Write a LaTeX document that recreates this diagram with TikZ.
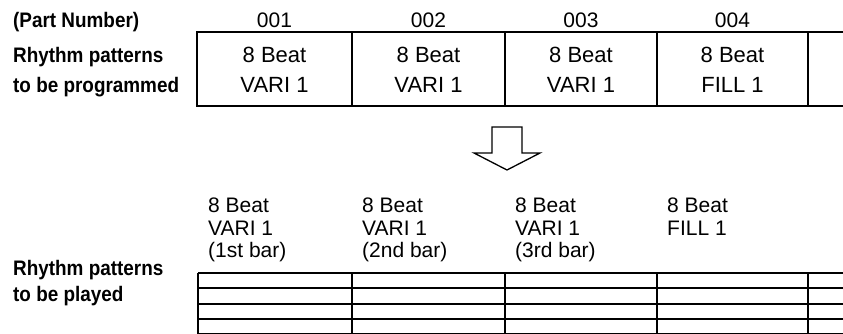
\documentclass[tikz,border=0pt]{standalone}
\usepackage{fontspec}
\setmainfont{Liberation Sans}
\newfontfamily\narrowfont[FakeStretch=0.9]{Liberation Sans}
\usepackage{tikz}

\begin{document}
\begin{tikzpicture}[x=1pt,y=-1pt,
    side/.style={font=\narrowfont\bfseries\fontsize{21}{30}\selectfont,align=left,anchor=north west,inner sep=0pt},
    partno/.style={font=\fontsize{21}{25}\selectfont,anchor=base,inner sep=0pt},
    cell/.style={font=\fontsize{22}{30}\selectfont,align=center,anchor=north,inner sep=0pt},
    bar/.style={font=\fontsize{21}{22.5}\selectfont,align=left,anchor=north west,inner sep=0pt},
    rule/.style={line width=1.1pt}]
    \useasboundingbox (0,0) rectangle (843,334);
    \node[side,anchor=base west] (partlbl) at (13,28) {(Part Number)};
    \node[side] (proglbl) at (13,47) {Rhythm patterns\\to be programmed};
    \node[side,font=\narrowfont\bfseries\fontsize{21}{26}\selectfont] (playlbl) at (13,260) {Rhythm patterns\\to be played};
    \node[partno] (no1) at (274.5,28) {001};
    \node[partno] (no2) at (428.5,28) {002};
    \node[partno] (no3) at (581,28) {003};
    \node[partno] (no4) at (732.5,28) {004};
    \draw[rule] (843,32) -- (197,32) -- (197,106) -- (843,106);
    \draw[rule] (352,32) -- (352,106);
    \draw[rule] (505,32) -- (505,106);
    \draw[rule] (657,32) -- (657,106);
    \draw[rule] (808,32) -- (808,106);
    \node[cell] (prog1) at (274.5,47) {8 Beat\\VARI 1};
    \node[cell] (prog2) at (428.5,47) {8 Beat\\VARI 1};
    \node[cell] (prog3) at (581,47) {8 Beat\\VARI 1};
    \node[cell] (prog4) at (732.5,47) {8 Beat\\FILL 1};
    \draw[line width=1.3pt] (492,127) -- (522,127) -- (522,153) -- (540,153) -- (507,170) -- (474,153) -- (492,153) -- cycle;
    \node[bar] (play1) at (208,198) {8 Beat\\VARI 1\\(1st bar)};
    \node[bar] (play2) at (362,198) {8 Beat\\VARI 1\\(2nd bar)};
    \node[bar] (play3) at (515,198) {8 Beat\\VARI 1\\(3rd bar)};
    \node[bar] (play4) at (667,198) {8 Beat\\FILL 1};
    \draw[rule] (198,273) -- (843,273);
    \draw[rule] (198,288) -- (843,288);
    \draw[rule,line width=1.5pt] (198,304) -- (843,304);
    \draw[rule] (198,319) -- (843,319);
    \draw[rule] (198,334) -- (843,334);
    \draw[rule] (198,273) -- (198,334);
    \draw[rule] (352,273) -- (352,334);
    \draw[rule] (505,273) -- (505,334);
    \draw[rule] (657,273) -- (657,334);
    \draw[rule] (808,273) -- (808,334);
\end{tikzpicture}
\end{document}
